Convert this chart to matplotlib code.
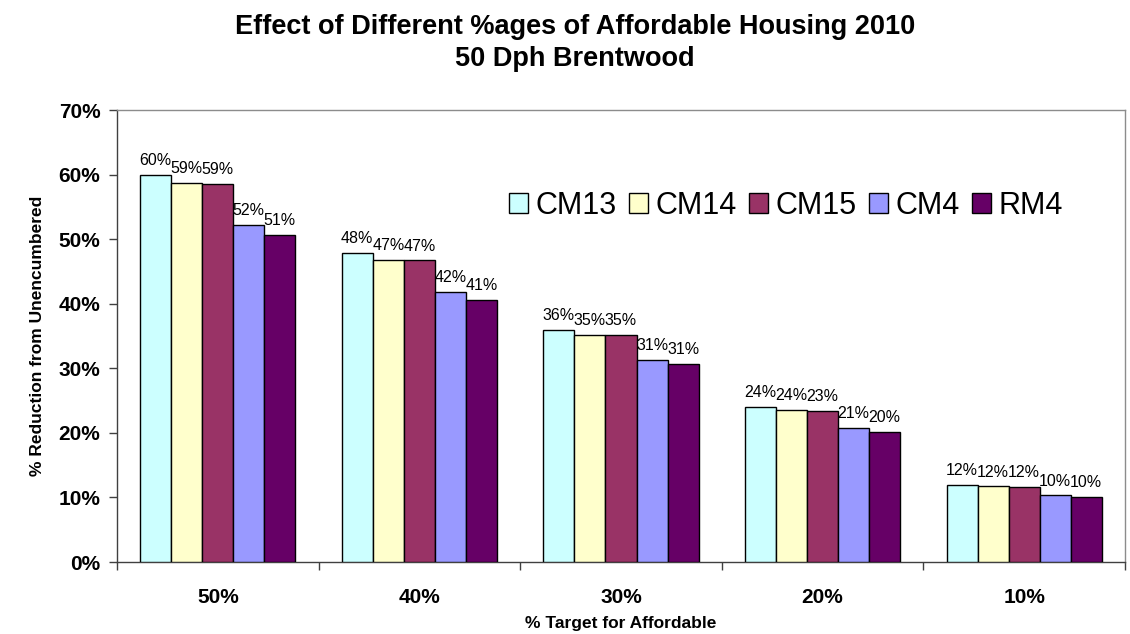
import matplotlib
matplotlib.use("Agg")
import matplotlib.pyplot as plt
import numpy as np
from matplotlib.ticker import FixedLocator, PercentFormatter

plt.rcParams['font.family'] = ['Liberation Sans', 'DejaVu Sans']

categories = ["50%", "40%", "30%", "20%", "10%"]
series_names = ["CM13", "CM14", "CM15", "CM4", "RM4"]
cm13 = [59.9, 47.9, 35.9, 24.0, 11.9]
cm14 = [58.7, 46.8, 35.2, 23.6, 11.7]
cm15 = [58.6, 46.7, 35.1, 23.4, 11.6]
cm4 = [52.2, 41.8, 31.3, 20.8, 10.3]
rm4 = [50.7, 40.6, 30.6, 20.2, 10.0]
series_values = [cm13, cm14, cm15, cm4, rm4]
colors = ["#CCFFFF", "#FFFFCC", "#993366", "#9999FF", "#660066"]
yticks = [0, 10, 20, 30, 40, 50, 60, 70]

fig = plt.figure(figsize=(11.3, 6.34), dpi=100)
ax = fig.add_axes([117/1130, 1-562/634, (1125-117)/1130, (562-110)/634])

x = np.arange(len(categories))
bw = 0.154
for i, (name, vals, c) in enumerate(zip(series_names, series_values, colors)):
    pos = x + (i - 2) * bw
    bars = ax.bar(pos, vals, width=bw, color=c, edgecolor="black", linewidth=1.0,
                  label=name, zorder=3)
    for b, v in zip(bars, vals):
        ax.annotate(f"{round(v):d}%", (b.get_x() + b.get_width()/2, v),
                    xytext=(0, 5), textcoords="offset points",
                    ha="center", va="bottom", fontsize=11.5, color="black")

ax.set_xlim(-0.5, 4.5)
ax.set_ylim(0, 70)
ax.set_yticks(yticks)
ax.yaxis.set_major_formatter(PercentFormatter(decimals=0))
ax.set_xticks(x)
ax.set_xticklabels(categories)
ax.xaxis.set_minor_locator(FixedLocator(np.arange(-0.5, 5.0, 1.0)))
ax.tick_params(axis="x", which="major", length=0, pad=19, labelsize=15)
ax.tick_params(axis="x", which="minor", length=6, width=1, color="#404040", direction="out")
ax.tick_params(axis="y", which="major", length=6, width=1, color="#404040", direction="out",
               pad=6, labelsize=15)
for lab in ax.get_xticklabels() + ax.get_yticklabels():
    lab.set_fontweight("bold")

for s in ["left", "bottom"]:
    ax.spines[s].set_color("#404040")
    ax.spines[s].set_linewidth(1.0)
for s in ["top", "right"]:
    ax.spines[s].set_color("#8c8c8c")
    ax.spines[s].set_linewidth(1.0)

ax.set_ylabel("% Reduction from Unencumbered", fontsize=12.5, fontweight="bold", labelpad=10)
ax.set_xlabel("% Target for Affordable", fontsize=12.5, fontweight="bold", labelpad=6)

fig.text(575/1130, 1-27/634, "Effect of Different %ages of Affordable Housing 2010",
         ha="center", va="center", fontsize=19.5, fontweight="bold")
fig.text(575/1130, 1-59/634, "50 Dph Brentwood",
         ha="center", va="center", fontsize=19.5, fontweight="bold")

leg = ax.legend(loc="center", bbox_to_anchor=((786-117)/(1125-117), (562-206)/(562-110)),
                ncol=5, frameon=False, fontsize=22, handlelength=0.62, handleheight=0.62,
                handletextpad=0.25, columnspacing=0.4, borderpad=0)

fig.savefig("out.png", dpi=100)
